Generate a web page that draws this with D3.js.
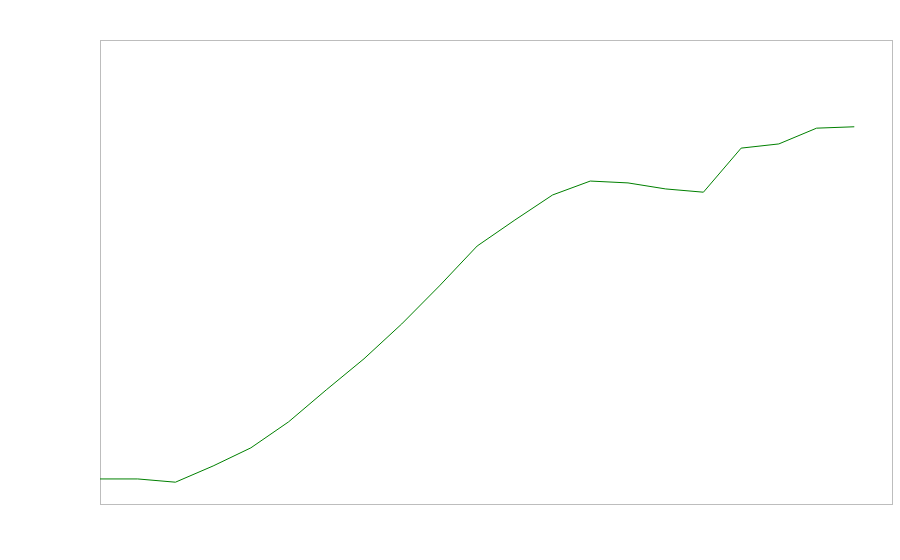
<!DOCTYPE html>
<html><head><meta charset="utf-8">
<script src="https://cdn.jsdelivr.net/npm/d3@7"></script>
<style>html,body{margin:0;padding:0;background:#fff;}svg{display:block;}</style>
</head><body>
<svg id="chart" width="900" height="560"></svg>
<script>
const periods = d3.range(0, 21);
const values = [5.4, 5.4, 4.7, 8.2, 12.1, 17.7, 24.6, 31.3, 38.8, 47.0, 55.6, 61.2, 66.6, 69.6, 69.2, 67.9, 67.2, 76.7, 77.6, 81.0, 81.3];

(function () {
  const svg = d3.select("#chart");
  const mLeft = 100, mRight = 892, mTop = 40, mBottom = 504;
  const x = d3.scaleLinear().domain([0, 21]).range([mLeft, mRight]);
  const y = d3.scaleLinear().domain([0, 100]).range([mBottom, mTop]);

  svg.append("rect").attr("x", mLeft + 0.5).attr("y", mTop + 0.5)
    .attr("width", mRight - mLeft).attr("height", mBottom - mTop)
    .attr("fill", "none").attr("stroke", "#bdbdbd").attr("stroke-width", 1);

  const line = d3.line().x((d, i) => x(periods[i])).y(d => y(d));
  svg.append("path").datum(values).attr("d", line)
    .attr("fill", "none").attr("stroke", "#008000").attr("stroke-width", 1);
})();
</script>
</body></html>
